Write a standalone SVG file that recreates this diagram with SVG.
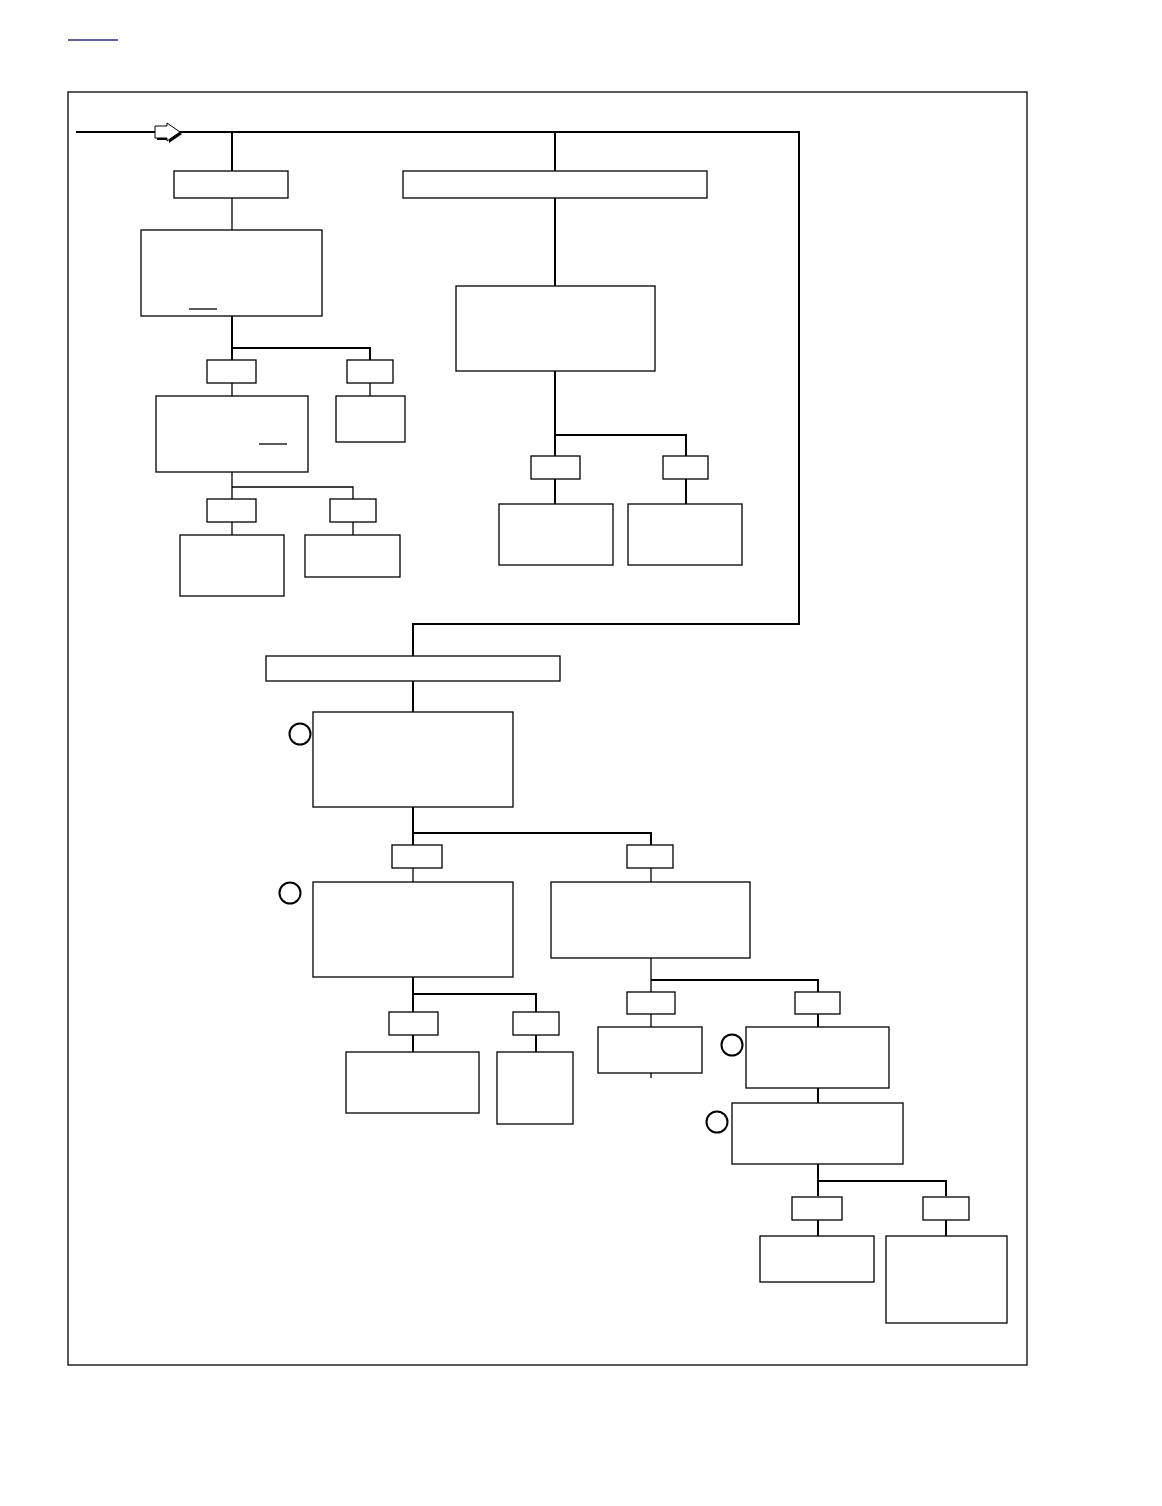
<svg xmlns="http://www.w3.org/2000/svg" width="1162" height="1506" viewBox="0 0 1162 1506">
<style>
.b{fill:#fff;stroke:#000;stroke-width:1.3}
.c{fill:none;stroke:#000;stroke-width:2}
.t{fill:none;stroke:#000;stroke-width:1.3}
.o{fill:#fff;stroke:#000;stroke-width:2}
</style>
<rect width="1162" height="1506" fill="#fff"/>
<line x1="68" y1="40" x2="118" y2="40" stroke="#2a2a80" stroke-width="1.3"/>
<rect x="68" y="92" width="959" height="1273" class="t"/>
<g id="connectors">
<polyline class="c" points="76,132 799,132 799,624 413,624 413,656"/>
<line class="c" x1="232" y1="132" x2="232" y2="171"/>
<line class="c" x1="555" y1="132" x2="555" y2="171"/>
<line class="t" x1="232" y1="198" x2="232" y2="230"/>
<polyline class="c" points="232,316 232,360"/>
<polyline class="c" points="232,348 370,348 370,360"/>
<line class="t" x1="232" y1="383" x2="232" y2="396"/>
<line class="t" x1="370" y1="383" x2="370" y2="396"/>
<polyline class="t" points="232,472 232,499"/>
<polyline class="t" points="232,487 353,487 353,499"/>
<line class="t" x1="232" y1="522" x2="232" y2="535"/>
<line class="t" x1="353" y1="522" x2="353" y2="535"/>
<line class="c" x1="555" y1="198" x2="555" y2="286"/>
<polyline class="c" points="555,371 555,456"/>
<polyline class="c" points="555,435 686,435 686,456"/>
<line class="c" x1="555" y1="479" x2="555" y2="504"/>
<line class="c" x1="686" y1="479" x2="686" y2="504"/>
<line class="c" x1="413" y1="681" x2="413" y2="712"/>
<polyline class="c" points="413,807 413,845"/>
<polyline class="c" points="413,833 651,833 651,845"/>
<line class="t" x1="413" y1="868" x2="413" y2="882"/>
<line class="t" x1="651" y1="868" x2="651" y2="882"/>
<polyline class="c" points="413,977 413,1012"/>
<polyline class="c" points="413,994 536,994 536,1012"/>
<line class="c" x1="413" y1="1035" x2="413" y2="1052"/>
<line class="c" x1="536" y1="1035" x2="536" y2="1052"/>
<polyline class="t" points="651,958 651,992"/>
<polyline class="c" points="651,980 818,980 818,992"/>
<line class="t" x1="651" y1="1014" x2="651" y2="1027"/>
<line class="c" x1="818" y1="1014" x2="818" y2="1027"/>
<line class="t" x1="651" y1="1073" x2="651" y2="1078"/>
<line class="c" x1="818" y1="1088" x2="818" y2="1103"/>
<polyline class="c" points="818,1164 818,1196"/>
<polyline class="c" points="818,1181 946,1181 946,1196"/>
<line class="c" x1="818" y1="1220" x2="818" y2="1236"/>
<line class="c" x1="946" y1="1220" x2="946" y2="1236"/>
</g>
<g id="arrow">
<polygon points="157,128 169,128 169,125 182,134 169,143 169,140 157,140" fill="#000"/>
<polygon points="155,126 167,126 167,123 180,132 167,141 167,138 155,138" fill="#fff" stroke="#000" stroke-width="1"/>
</g>
<g id="n1"><rect class="b" x="174" y="171" width="114" height="27"/></g>
<g id="n2"><rect class="b" x="141" y="230" width="181" height="86"/><line class="t" x1="189" y1="309" x2="217" y2="309"/></g>
<g id="n3"><rect class="b" x="207" y="360" width="49" height="23"/></g>
<g id="n4"><rect class="b" x="347" y="360" width="46" height="23"/></g>
<g id="n5"><rect class="b" x="156" y="396" width="152" height="76"/><line class="t" x1="259" y1="444" x2="287" y2="444"/></g>
<g id="n6"><rect class="b" x="336" y="396" width="69" height="46"/></g>
<g id="n7"><rect class="b" x="207" y="499" width="49" height="23"/></g>
<g id="n8"><rect class="b" x="330" y="499" width="46" height="23"/></g>
<g id="n9"><rect class="b" x="180" y="535" width="104" height="61"/></g>
<g id="n10"><rect class="b" x="305" y="535" width="95" height="42"/></g>
<g id="n11"><rect class="b" x="403" y="171" width="304" height="27"/></g>
<g id="n12"><rect class="b" x="456" y="286" width="199" height="85"/></g>
<g id="n13"><rect class="b" x="531" y="456" width="49" height="23"/></g>
<g id="n14"><rect class="b" x="663" y="456" width="45" height="23"/></g>
<g id="n15"><rect class="b" x="499" y="504" width="114" height="61"/></g>
<g id="n16"><rect class="b" x="628" y="504" width="114" height="61"/></g>
<g id="n17"><rect class="b" x="266" y="656" width="294" height="25"/></g>
<g id="n18"><rect class="b" x="313" y="712" width="200" height="95"/><circle class="o" cx="300" cy="734" r="10.5"/></g>
<g id="n19"><rect class="b" x="392" y="845" width="50" height="23"/></g>
<g id="n20"><rect class="b" x="627" y="845" width="46" height="23"/></g>
<g id="n21"><rect class="b" x="313" y="882" width="200" height="95"/><circle class="o" cx="290" cy="893" r="10.5"/></g>
<g id="n22"><rect class="b" x="551" y="882" width="199" height="76"/></g>
<g id="n23"><rect class="b" x="389" y="1012" width="49" height="23"/></g>
<g id="n24"><rect class="b" x="513" y="1012" width="46" height="23"/></g>
<g id="n25"><rect class="b" x="346" y="1052" width="133" height="61"/></g>
<g id="n26"><rect class="b" x="497" y="1052" width="76" height="72"/></g>
<g id="n27"><rect class="b" x="627" y="992" width="48" height="22"/></g>
<g id="n28"><rect class="b" x="795" y="992" width="45" height="22"/></g>
<g id="n29"><rect class="b" x="598" y="1027" width="104" height="46"/></g>
<g id="n30"><rect class="b" x="746" y="1027" width="143" height="61"/><circle class="o" cx="732" cy="1045" r="10.5"/></g>
<g id="n31"><rect class="b" x="732" y="1103" width="171" height="61"/><circle class="o" cx="717" cy="1122" r="10.5"/></g>
<g id="n32"><rect class="b" x="792" y="1197" width="50" height="23"/></g>
<g id="n33"><rect class="b" x="923" y="1197" width="46" height="23"/></g>
<g id="n34"><rect class="b" x="760" y="1236" width="114" height="46"/></g>
<g id="n35"><rect class="b" x="886" y="1236" width="121" height="87"/></g>
</svg>
